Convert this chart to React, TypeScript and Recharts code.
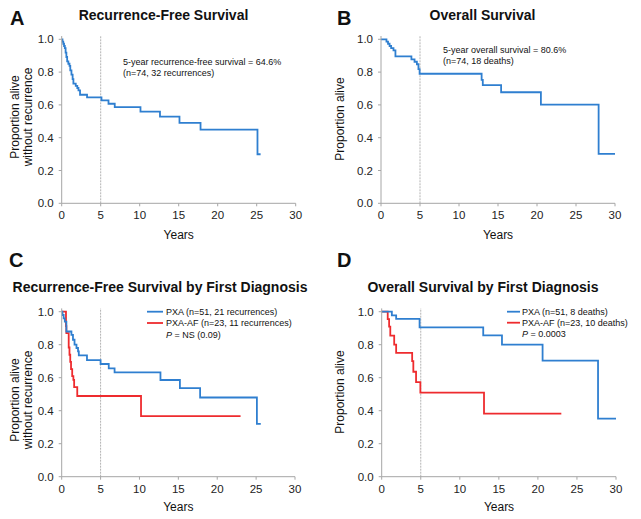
import React from 'react';
import { LineChart, Line, XAxis, YAxis, ReferenceLine } from 'recharts';

const FONT = '"Liberation Sans", Arial, sans-serif';
const BLUE = '#2f7fd0';
const RED = '#ee2b2e';

const xTicks = [0, 5, 10, 15, 20, 25, 30];
const yTicks = [0, 0.2, 0.4, 0.6, 0.8, 1.0];

// Panel A: recurrence-free survival, all patients
const rfsAllYears = [0, 0.1, 0.2, 0.3, 0.4, 0.5, 0.6, 0.7, 0.85, 1.0, 1.1, 1.25, 1.4, 1.5, 1.8, 2.0, 2.15, 2.35, 3.25, 5.1, 6.0, 6.8, 10.1, 12.6, 15.1, 17.8, 25.1, 25.5];
const rfsAllProb = [1.0, 0.986, 0.973, 0.959, 0.946, 0.919, 0.892, 0.865, 0.851, 0.838, 0.811, 0.784, 0.757, 0.73, 0.716, 0.703, 0.689, 0.662, 0.646, 0.628, 0.607, 0.586, 0.559, 0.529, 0.49, 0.449, 0.299, 0.299];

// Panel B: overall survival, all patients
const osAllYears = [0, 0.7, 0.9, 1.1, 1.3, 1.6, 1.85, 3.9, 4.3, 4.6, 4.8, 4.95, 12.9, 13.05, 15.4, 20.5, 27.9, 30];
const osAllProb = [1.0, 0.986, 0.973, 0.959, 0.946, 0.932, 0.896, 0.878, 0.863, 0.848, 0.818, 0.79, 0.752, 0.72, 0.677, 0.602, 0.301, 0.301];

// Panel C: recurrence-free survival by first diagnosis
const rfsPxaYears = [0, 0.1, 0.25, 0.4, 0.6, 1.25, 1.45, 1.65, 1.9, 2.1, 2.2, 3.25, 5.0, 6.05, 6.8, 12.7, 15.2, 17.8, 25.1, 25.6];
const rfsPxaProb = [1.0, 0.98, 0.96, 0.94, 0.88, 0.86, 0.83, 0.8, 0.78, 0.76, 0.735, 0.707, 0.683, 0.657, 0.632, 0.586, 0.537, 0.48, 0.32, 0.32];
const rfsAfYears = [0, 0.55, 0.6, 0.9, 1.0, 1.1, 1.2, 1.35, 1.5, 1.6, 2.0, 10.2, 23.0];
const rfsAfProb = [1.0, 0.913, 0.87, 0.783, 0.739, 0.696, 0.652, 0.609, 0.587, 0.543, 0.489, 0.367, 0.367];

// Panel D: overall survival by first diagnosis
const osPxaYears = [0, 1.3, 1.85, 4.85, 13.0, 15.4, 20.6, 27.7, 30];
const osPxaProb = [1.0, 0.978, 0.956, 0.905, 0.857, 0.8, 0.703, 0.352, 0.352];
const osAfYears = [0, 0.77, 0.95, 1.1, 1.6, 1.85, 3.9, 4.05, 4.4, 4.95, 13.1, 23.0];
const osAfProb = [1.0, 0.955, 0.91, 0.855, 0.8, 0.75, 0.7, 0.636, 0.573, 0.509, 0.382, 0.382];

const toSeries = (t: number[], s: number[]) => t.map((x, i) => ({ t: x, s: s[i] }));

type Series = { data: { t: number; s: number }[]; color: string; name: string };

function Panel(props: { left: number; top: number; plotLeft: number; plotRight: number; y1: number; y0: number; series: Series[] }) {
  const { left, top, plotLeft, plotRight, y1, y0, series } = props;
  const W = 320;
  const H = 260;
  const ymax = 1.02;
  const marginTop = y1 - (ymax - 1) * (y0 - y1);
  const xAxisH = 24;
  const tickStyle = { fill: '#222', fontSize: 11.5, fontFamily: FONT };
  return (
    <div style={{ position: 'absolute', left, top, width: W, height: H }}>
      <LineChart width={W} height={H} margin={{ top: marginTop, right: W - plotRight, bottom: H - y0 - xAxisH, left: 0 }}>
        <XAxis
          type="number"
          dataKey="t"
          domain={[0, 30]}
          ticks={xTicks}
          interval={0}
          allowDataOverflow
          height={xAxisH}
          stroke="#a6a6a6"
          tickSize={3}
          tickMargin={5}
          tick={tickStyle}
        />
        <YAxis
          type="number"
          domain={[0, ymax]}
          ticks={yTicks}
          interval={0}
          allowDataOverflow
          width={plotLeft}
          stroke="#a6a6a6"
          tickSize={3}
          tickMargin={5}
          tick={tickStyle}
          tickFormatter={(v: number) => v.toFixed(1)}
        />
        <ReferenceLine x={5} stroke="#b3b3b3" strokeWidth={1} strokeDasharray="2 1" />
        {series.map((s) => (
          <Line
            key={s.name}
            name={s.name}
            data={s.data}
            dataKey="s"
            type="stepAfter"
            stroke={s.color}
            strokeWidth={1.8}
            dot={false}
            activeDot={false}
            isAnimationActive={false}
          />
        ))}
      </LineChart>
    </div>
  );
}

export default function App() {
  const t = { fontFamily: FONT, fill: '#111' };
  return (
    <div style={{ position: 'absolute', left: 0, top: 0, width: 641, height: 519, background: '#fff' }}>
      <Panel left={0} top={0} plotLeft={61.7} plotRight={295.7} y1={39.3} y0={203.3}
        series={[{ name: 'all', color: BLUE, data: toSeries(rfsAllYears, rfsAllProb) }]} />
      <Panel left={320} top={0} plotLeft={61} plotRight={295} y1={39.3} y0={203.3}
        series={[{ name: 'all', color: BLUE, data: toSeries(osAllYears, osAllProb) }]} />
      <Panel left={0} top={260} plotLeft={61.7} plotRight={295} y1={51.7} y0={216.7}
        series={[
          { name: 'PXA-AF', color: RED, data: toSeries(rfsAfYears, rfsAfProb) },
          { name: 'PXA', color: BLUE, data: toSeries(rfsPxaYears, rfsPxaProb) },
        ]} />
      <Panel left={320} top={260} plotLeft={61.7} plotRight={296} y1={51.7} y0={216.7}
        series={[
          { name: 'PXA-AF', color: RED, data: toSeries(osAfYears, osAfProb) },
          { name: 'PXA', color: BLUE, data: toSeries(osPxaYears, osPxaProb) },
        ]} />
      <svg width={641} height={519} style={{ position: 'absolute', left: 0, top: 0, pointerEvents: 'none' }}>
        {/* Panel letters */}
        <text x={10} y={25} fontSize={20} fontWeight="bold" {...t}>A</text>
        <text x={337} y={24.5} fontSize={20} fontWeight="bold" {...t}>B</text>
        <text x={9} y={267} fontSize={20} fontWeight="bold" {...t}>C</text>
        <text x={337} y={267} fontSize={20} fontWeight="bold" {...t}>D</text>
        {/* Titles */}
        <text x={163.5} y={19.5} fontSize={14} fontWeight="bold" textAnchor="middle" {...t}>Recurrence-Free Survival</text>
        <text x={482.5} y={19.5} fontSize={14} fontWeight="bold" textAnchor="middle" {...t}>Overall Survival</text>
        <text x={160} y={291.5} fontSize={14} fontWeight="bold" textAnchor="middle" {...t}>Recurrence-Free Survival by First Diagnosis</text>
        <text x={483} y={291.5} fontSize={14} fontWeight="bold" textAnchor="middle" {...t}>Overall Survival by First Diagnosis</text>
        {/* X axis titles */}
        <text x={178.7} y={238.5} fontSize={12} textAnchor="middle" {...t}>Years</text>
        <text x={498} y={238.5} fontSize={12} textAnchor="middle" {...t}>Years</text>
        <text x={178.3} y={510.5} fontSize={12} textAnchor="middle" {...t}>Years</text>
        <text x={499} y={510.5} fontSize={12} textAnchor="middle" {...t}>Years</text>
        {/* Y axis titles */}
        <text transform="translate(19,117) rotate(-90)" fontSize={12} textAnchor="middle" {...t}>Proportion alive</text>
        <text transform="translate(32,117) rotate(-90)" fontSize={12} textAnchor="middle" {...t}>without recurrence</text>
        <text transform="translate(344,119) rotate(-90)" fontSize={12} textAnchor="middle" {...t}>Proportion alive</text>
        <text transform="translate(19,400) rotate(-90)" fontSize={12} textAnchor="middle" {...t}>Proportion alive</text>
        <text transform="translate(32,400) rotate(-90)" fontSize={12} textAnchor="middle" {...t}>without recurrence</text>
        <text transform="translate(344,392) rotate(-90)" fontSize={12} textAnchor="middle" {...t}>Proportion alive</text>
        {/* Annotations */}
        <text x={123} y={65} fontSize={9} {...t}>5-year recurrence-free survival = 64.6%</text>
        <text x={123} y={75.5} fontSize={9} {...t}>(n=74, 32 recurrences)</text>
        <text x={443} y={52.5} fontSize={9} {...t}>5-year overall survival = 80.6%</text>
        <text x={443} y={64} fontSize={9} {...t}>(n=74, 18 deaths)</text>
        {/* Legend C */}
        <line x1={147} x2={163} y1={311.7} y2={311.7} stroke={BLUE} strokeWidth={1.8} />
        <line x1={147} x2={163} y1={323} y2={323} stroke={RED} strokeWidth={1.8} />
        <text x={166} y={315} fontSize={9} {...t}>PXA (n=51, 21 recurrences)</text>
        <text x={166} y={326.3} fontSize={9} {...t}>PXA-AF (n=23, 11 recurrences)</text>
        <text x={166} y={337.5} fontSize={9} {...t}><tspan fontStyle="italic">P</tspan> = NS (0.09)</text>
        {/* Legend D */}
        <line x1={507} x2={520} y1={311.7} y2={311.7} stroke={BLUE} strokeWidth={1.8} />
        <line x1={507} x2={520} y1={322.7} y2={322.7} stroke={RED} strokeWidth={1.8} />
        <text x={522} y={315} fontSize={9} {...t}>PXA (n=51, 8 deaths)</text>
        <text x={522} y={326} fontSize={9} {...t}>PXA-AF (n=23, 10 deaths)</text>
        <text x={522} y={337.3} fontSize={9} {...t}><tspan fontStyle="italic">P</tspan> = 0.0003</text>
      </svg>
    </div>
  );
}
